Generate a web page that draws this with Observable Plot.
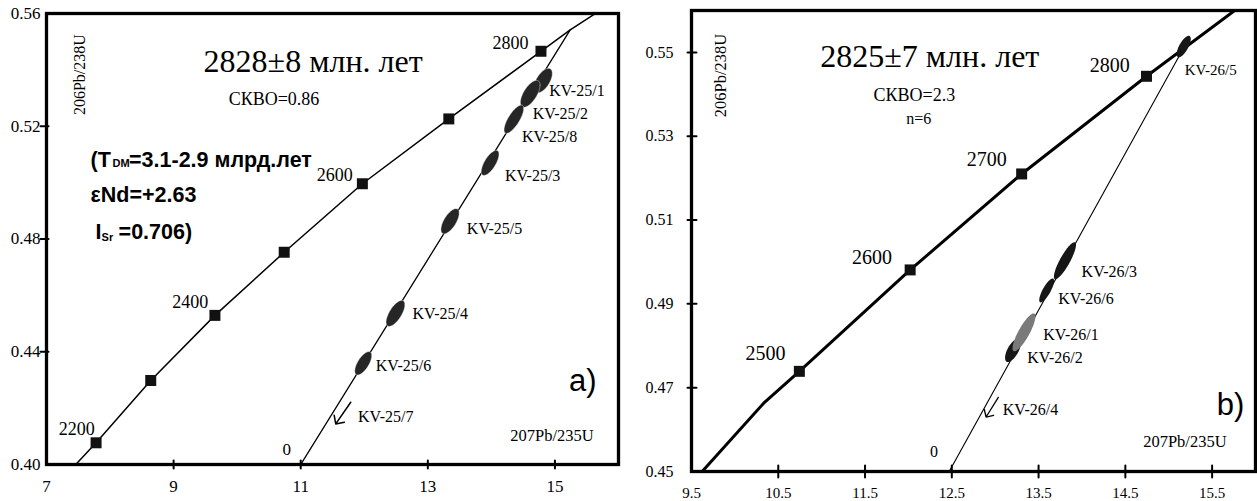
<!DOCTYPE html>
<html><head><meta charset="utf-8">
<script src="https://cdn.jsdelivr.net/npm/d3@7"></script>
<script src="https://cdn.jsdelivr.net/npm/@observablehq/plot@0.6"></script>
<style>
html,body{margin:0;padding:0;background:#fff;}
#wrap{display:flex;width:1257px;height:501px;overflow:hidden;background:#fff;}
#wrap svg{display:block;flex:none}
</style></head><body><div id="wrap"></div>
<script>
// ---------- Panel a data ----------
const agesA  = [2200, 2300, 2400, 2500, 2600, 2700, 2800];
const markAx = [7.78, 8.64, 9.65, 10.74, 11.97, 13.33, 14.78];
const markAy = [0.4077, 0.4298, 0.4529, 0.4753, 0.4996, 0.5226, 0.5466];
const concAx = [7.46, 7.78, 8.64, 9.65, 10.74, 11.97, 13.33, 14.78, 15.24, 15.61];
const concAy = [0.400, 0.4077, 0.4298, 0.4529, 0.4753, 0.4996, 0.5226, 0.5466, 0.5542, 0.5596];
const discAx = [11.0, 15.24];
const discAy = [0.400, 0.5542];
const spotA   = ["KV-25/1", "KV-25/2", "KV-25/8", "KV-25/3", "KV-25/5", "KV-25/4", "KV-25/6"];
const spotAx  = [14.814, 14.611, 14.354, 13.980, 13.350, 12.491, 11.984];
const spotAy  = [0.5362, 0.5315, 0.5225, 0.5070, 0.4863, 0.4536, 0.4359];
const spotAsx = [0.145, 0.155, 0.155, 0.14, 0.144, 0.148, 0.134];
const spotAsy = [0.00435, 0.00478, 0.00503, 0.00445, 0.00447, 0.00461, 0.00415];
const spotArho = [0.58, 0.64, 0.75, 0.69, 0.65, 0.67, 0.66];
const xTickA = [7, 9, 11, 13, 15];
const yTickA = [0.40, 0.44, 0.48, 0.52, 0.56];

// ---------- Panel b data ----------
const agesB  = [2500, 2600, 2700, 2800];
const markBx = [10.743, 12.020, 13.305, 14.744];
const markBy = [0.4739, 0.4981, 0.5210, 0.5443];
const concBx = [9.623, 10.332, 10.743, 12.020, 13.305, 14.744, 15.76];
const concBy = [0.450, 0.4663, 0.4739, 0.4981, 0.5210, 0.5443, 0.560];
const discBx = [12.47, 15.208];
const discBy = [0.450, 0.5524];
const spotB   = ["KV-26/5", "KV-26/3", "KV-26/6", "KV-26/2", "KV-26/1"];
const spotBx  = [15.173, 13.804, 13.593, 13.205, 13.332];
const spotBy  = [0.5514, 0.5003, 0.4932, 0.4789, 0.4832];
const spotBsx = [0.0809, 0.1276, 0.0854, 0.0913, 0.1321];
const spotBsy = [0.00256, 0.00442, 0.00285, 0.00279, 0.00453];
const spotBrho = [0.70, 0.86, 0.80, 0.64, 0.84];
const xTickB = [9.5, 10.5, 11.5, 12.5, 13.5, 14.5, 15.5];
const yTickB = [0.45, 0.47, 0.49, 0.51, 0.53, 0.55];

// ---------- helpers ----------
const zip = (xs, ys, extra = {}) => xs.map((x, i) => ({x, y: ys[i], ...Object.fromEntries(Object.entries(extra).map(([k, v]) => [k, v[i]]))}));
function ellipsePts(names, xs, ys, sxs, sys, rhos) {
  const pts = [];
  names.forEach((n, i) => {
    const r = rhos[i], k = Math.sqrt(1 - r * r);
    for (let j = 0; j <= 72; j++) {
      const t = j / 72 * 2 * Math.PI;
      pts.push({id: n, x: xs[i] + sxs[i] * Math.cos(t), y: ys[i] + sys[i] * (r * Math.cos(t) + k * Math.sin(t))});
    }
  });
  return pts;
}
const tickShape = {draw(ctx, l) { ctx.moveTo(0, 0); ctx.lineTo(0, -l); }};
const txt = (data, o) => Plot.text(data, {x: "x", y: "y", text: "t", textAnchor: "start", lineAnchor: "bottom", fill: "black", ...o});

// ---------- annotation layout ----------
const labA = [
  {t: "KV-25/1", x: 14.910, y: 0.5309}, {t: "KV-25/2", x: 14.649, y: 0.5226},
  {t: "KV-25/8", x: 14.480, y: 0.5143}, {t: "KV-25/3", x: 14.213, y: 0.5007},
  {t: "KV-25/5", x: 13.614, y: 0.4818}, {t: "KV-25/4", x: 12.759, y: 0.4517},
  {t: "KV-25/6", x: 12.181, y: 0.4331}, {t: "KV-25/7", x: 11.902, y: 0.4150}
];
const ageLabA = [
  {t: "2800", x: 14.019, y: 0.5475}, {t: "2600", x: 11.252, y: 0.5007},
  {t: "2400", x: 8.979, y: 0.4556}, {t: "2200", x: 7.194, y: 0.4105}
];
const labB = [
  {t: "KV-26/3", x: 13.996, y: 0.4965}, {t: "KV-26/6", x: 13.727, y: 0.4900},
  {t: "KV-26/1", x: 13.554, y: 0.4814}, {t: "KV-26/2", x: 13.370, y: 0.4758},
  {t: "KV-26/4", x: 13.087, y: 0.4634}
];
const ageLabB = [
  {t: "2800", x: 14.091, y: 0.5454}, {t: "2700", x: 12.673, y: 0.5230},
  {t: "2600", x: 11.349, y: 0.4996}, {t: "2500", x: 10.121, y: 0.4765}
];

const styleBase = {fontFamily: "'Liberation Serif', 'Times New Roman', serif", fontSize: "16px", background: "white", color: "black", overflow: "visible"};
const sans = "'Liberation Sans', Arial, sans-serif";

// ---------- Panel a ----------
const plotA = Plot.plot({
  width: 630, height: 501,
  marginLeft: 46, marginRight: 12, marginTop: 13, marginBottom: 37,
  x: {domain: [7, 16], label: null},
  y: {domain: [0.40, 0.56], label: null},
  style: styleBase,
  marks: [
    Plot.line(zip(concAx, concAy), {x: "x", y: "y", stroke: "black", strokeWidth: 1.5, clip: true}),
    Plot.line(zip(discAx, discAy), {x: "x", y: "y", stroke: "black", strokeWidth: 1.3, clip: true}),
    Plot.line(ellipsePts(spotA, spotAx, spotAy, spotAsx, spotAsy, spotArho), {x: "x", y: "y", z: "id", fill: "#262626", stroke: "white", strokeWidth: 0.4}),
    Plot.dot(zip(markAx, markAy, {age: agesA}), {x: "x", y: "y", symbol: "square", r: 6.2, fill: "#111"}),
    Plot.frame({stroke: "black", strokeWidth: 3.3}),
    Plot.vector(xTickA.slice(1), {x: d => d, frameAnchor: "bottom", length: 8, rotate: 0, anchor: "middle", shape: tickShape, stroke: "black", strokeWidth: 2}),
    Plot.vector(yTickA.slice(1, -1), {y: d => d, frameAnchor: "left", length: 8, rotate: 90, anchor: "middle", dx: -2, shape: tickShape, stroke: "black", strokeWidth: 2}),
    Plot.axisX(xTickA, {tickSize: 0, tickPadding: 15, fontSize: 17, tickFormat: d => String(d), label: null}),
    Plot.axisY(yTickA, {tickSize: 0, tickPadding: 6, fontSize: 17, tickFormat: d => d.toFixed(2), label: null}),
    txt([{t: "2828±8 млн. лет", x: 9.472, y: 0.5391}], {fontSize: 32}),
    txt([{t: "СКВО=0.86", x: 9.866, y: 0.5274}], {fontSize: 18}),
    txt([{t: "206Pb/238U", x: 7.528, y: 0.5383}], {fontSize: 16, rotate: -90, textAnchor: "middle", lineAnchor: "middle"}),
    txt([{t: "(T", x: 7.693, y: 0.5054}, {t: "=3.1-2.9 млрд.лет", x: 8.299, y: 0.5054},
         {t: "εNd=+2.63", x: 7.693, y: 0.4930}, {t: "I", x: 7.772, y: 0.4801}, {t: " =0.706)", x: 8.04, y: 0.4801}],
        {fontSize: 21.5, fontWeight: "bold", fontFamily: sans}),
    txt([{t: "DM", x: 8.039, y: 0.5054}, {t: "Sr", x: 7.866, y: 0.4794}],
        {fontSize: 11, fontWeight: "bold", fontFamily: sans}),
    txt(ageLabA, {fontSize: 18}),
    txt(labA, {fontSize: 16}),
    Plot.arrow([{x1: 11.787, y1: 0.4221, x2: 11.551, y2: 0.4144}], {x1: "x1", y1: "y1", x2: "x2", y2: "y2", headAngle: 90, headLength: 13, stroke: "black", strokeWidth: 1.5}),
    txt([{t: "0", x: 10.712, y: 0.4032}], {fontSize: 17}),
    txt([{t: "a)", x: 15.22, y: 0.4262}], {fontSize: 31, fontFamily: sans}),
    txt([{t: "207Pb/235U", x: 14.296, y: 0.4085}], {fontSize: 16.5})
  ]
});

// ---------- Panel b ----------
const plotB = Plot.plot({
  width: 627, height: 501,
  marginLeft: 61, marginRight: 2, marginTop: 10, marginBottom: 30,
  x: {domain: [9.5, 16], label: null},
  y: {domain: [0.45, 0.56], label: null},
  style: styleBase,
  marks: [
    Plot.line(zip(discBx, discBy), {x: "x", y: "y", stroke: "black", strokeWidth: 1.1, clip: true}),
    Plot.line(zip(concBx, concBy), {x: "x", y: "y", stroke: "black", strokeWidth: 3, strokeLinejoin: "round", clip: true}),
    Plot.line(ellipsePts(spotB, spotBx, spotBy, spotBsx, spotBsy, spotBrho), {x: "x", y: "y", z: "id", fill: d => d.id === "KV-26/1" ? "#7a7a7a" : "#161616", stroke: "none"}),
    Plot.dot(zip(markBx, markBy, {age: agesB}), {x: "x", y: "y", symbol: "square", r: 6.2, fill: "#111"}),
    Plot.frame({stroke: "black", strokeWidth: 3.3}),
    Plot.vector(xTickB.slice(1), {x: d => d, frameAnchor: "bottom", length: 12, rotate: 0, anchor: "middle", shape: tickShape, stroke: "black", strokeWidth: 2}),
    Plot.vector(yTickB.slice(1), {y: d => d, frameAnchor: "left", length: 9, rotate: 90, anchor: "middle", dx: 0.5, shape: tickShape, stroke: "black", strokeWidth: 2}),
    Plot.axisX(xTickB, {tickSize: 0, tickPadding: 16, fontSize: 15, tickFormat: d => d.toFixed(1), label: null}),
    Plot.axisY(yTickB, {tickSize: 0, tickPadding: 18, fontSize: 16, tickFormat: d => d.toFixed(2), label: null}),
    txt([{t: "2825±7 млн. лет", x: 10.984, y: 0.5464}], {fontSize: 32}),
    txt([{t: "СКВО=2.3", x: 11.598, y: 0.5385}], {fontSize: 18}),
    txt([{t: "n=6", x: 11.974, y: 0.5330}], {fontSize: 16}),
    txt([{t: "206Pb/238U", x: 9.839, y: 0.5445}], {fontSize: 16.5, rotate: -90, textAnchor: "middle", lineAnchor: "middle"}),
    txt(ageLabB, {fontSize: 20}),
    txt([{t: "KV-26/5", x: 15.185, y: 0.5445}], {fontSize: 15}),
    txt(labB, {fontSize: 16}),
    Plot.arrow([{x1: 13.036, y1: 0.4677, x2: 12.895, y2: 0.4630}], {x1: "x1", y1: "y1", x2: "x2", y2: "y2", headAngle: 90, headLength: 12, stroke: "black", strokeWidth: 1.3}),
    txt([{t: "0", x: 12.25, y: 0.4534}], {fontSize: 16}),
    txt([{t: "b)", x: 15.553, y: 0.4634}], {fontSize: 31, fontFamily: sans}),
    txt([{t: "207Pb/235U", x: 14.705, y: 0.4558}], {fontSize: 16.5})
  ]
});

document.getElementById("wrap").append(plotA, plotB);
</script>
</body></html>
